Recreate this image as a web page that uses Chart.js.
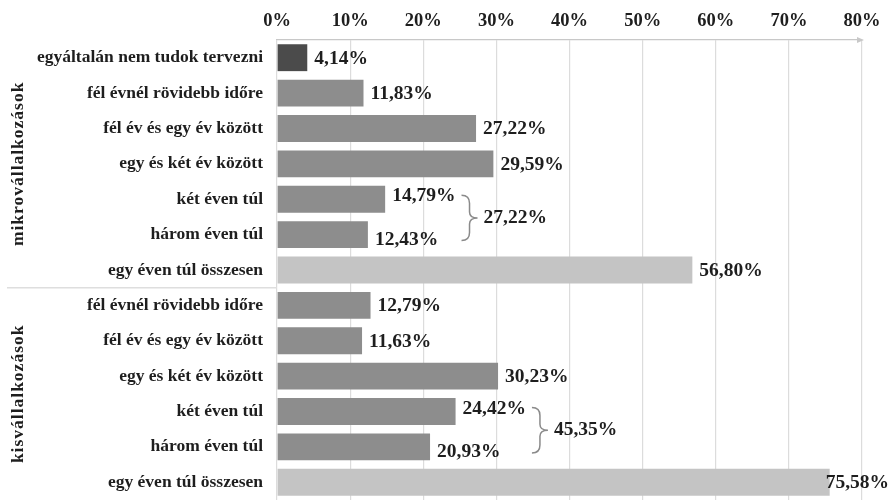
<!DOCTYPE html>
<html>
<head>
<meta charset="utf-8">
<script src="https://cdn.jsdelivr.net/npm/chart.js@4.4.0/dist/chart.umd.min.js"></script>
<style>
  html, body { margin: 0; padding: 0; background: #fff; }
  .chart-wrap { width: 892px; height: 500px; }
</style>
</head>
<body>
<div class="chart-wrap"><canvas id="myChart" width="892" height="500"></canvas></div>
<script>
const categories = [
  'egyáltalán nem tudok tervezni',
  'fél évnél rövidebb időre',
  'fél év és egy év között',
  'egy és két év között',
  'két éven túl',
  'három éven túl',
  'egy éven túl összesen',
  'fél évnél rövidebb időre',
  'fél év és egy év között',
  'egy és két év között',
  'két éven túl',
  'három éven túl',
  'egy éven túl összesen'
];
const values = [4.14, 11.83, 27.22, 29.59, 14.79, 12.43, 56.80, 12.79, 11.63, 30.23, 24.42, 20.93, 75.58];
const groupLabels = ['mikrovállalkozások', 'kisvállalkozások'];
const groupStarts = [0, 7];
const groupEnds = [6, 12];
const braceRows = [[4, 5], [10, 11]];
const braceSums = [27.22, 45.35];
const xTicks = [0, 10, 20, 30, 40, 50, 60, 70, 80];

const FONT = '"Liberation Serif", "Times New Roman", serif';
const DARK = '#4b4b4b';
const MID = '#8d8d8d';
const LIGHT = '#c4c4c4';

function pct(v){
  return v.toFixed(2).replace('.', ',') + '%';
}

const app = {
  barColors: function(){
    return categories.map(function(cat, i){
      if(i == 0) return DARK;
      if(cat == 'egy éven túl összesen') return LIGHT;
      return MID;
    });
  },

  extrasPlugin: {
    id: 'extras',
    afterDatasetsDraw: function(chart){
      const ctx = chart.ctx;
      const xs = chart.scales.x;
      const ys = chart.scales.y;
      const area = chart.chartArea;
      const labelEnds = [];

      ctx.save();
      ctx.fillStyle = '#1e1e1e';
      ctx.font = 'bold 19.5px ' + FONT;
      ctx.textBaseline = 'middle';
      ctx.textAlign = 'left';

      // value labels
      values.forEach(function(v, i){
        let dy = 0;
        braceRows.forEach(function(pair){
          if(pair[0] == i) dy = -4;
          if(pair[1] == i) dy = 4;
        });
        const txt = pct(v);
        const w = ctx.measureText(txt).width;
        let x = xs.getPixelForValue(v) + 7;
        if(x + w > chart.width - 3) x = chart.width - 3 - w;
        const y = ys.getPixelForValue(i) + dy + 1;
        ctx.fillText(txt, x, y);
        labelEnds[i] = x + w;
      });

      // braces with totals
      ctx.strokeStyle = '#8a8a8a';
      ctx.lineWidth = 1.5;
      braceRows.forEach(function(pair, k){
        const x0 = Math.max(labelEnds[pair[0]], labelEnds[pair[1]]) + 6;
        const y0 = ys.getPixelForValue(pair[0]) - 4;
        const y1 = ys.getPixelForValue(pair[1]) + 6;
        const ym = (y0 + y1) / 2;
        const w = 8;
        ctx.beginPath();
        ctx.moveTo(x0, y0);
        ctx.quadraticCurveTo(x0 + w, y0, x0 + w, y0 + 8);
        ctx.lineTo(x0 + w, ym - 6);
        ctx.quadraticCurveTo(x0 + w, ym, x0 + 2 * w, ym);
        ctx.quadraticCurveTo(x0 + w, ym, x0 + w, ym + 6);
        ctx.lineTo(x0 + w, y1 - 8);
        ctx.quadraticCurveTo(x0 + w, y1, x0, y1);
        ctx.stroke();
        ctx.fillText(pct(braceSums[k]), x0 + 2 * w + 6, ym);
      });

      // arrow at the end of the top axis
      ctx.fillStyle = '#c8c8c8';
      ctx.beginPath();
      ctx.moveTo(area.right + 2, area.top);
      ctx.lineTo(area.right - 5, area.top - 3);
      ctx.lineTo(area.right - 5, area.top + 3);
      ctx.closePath();
      ctx.fill();

      // group separator and rotated group labels
      ctx.strokeStyle = '#dedede';
      ctx.lineWidth = 1.5;
      for(let g = 1; g < groupStarts.length; g++){
        const ySep = (ys.getPixelForValue(groupStarts[g] - 1) + ys.getPixelForValue(groupStarts[g])) / 2;
        ctx.beginPath();
        ctx.moveTo(7, ySep);
        ctx.lineTo(area.left, ySep);
        ctx.stroke();
      }

      ctx.fillStyle = '#1e1e1e';
      ctx.font = 'bold 17.5px ' + FONT;
      ctx.letterSpacing = '1px';
      ctx.textAlign = 'center';
      groupLabels.forEach(function(lbl, g){
        const yc = (ys.getPixelForValue(groupStarts[g]) + ys.getPixelForValue(groupEnds[g])) / 2;
        ctx.save();
        ctx.translate(18, yc);
        ctx.rotate(-Math.PI / 2);
        ctx.fillText(lbl, 0, 0);
        ctx.restore();
      });
      ctx.restore();
    }
  },

  initChart: function(){
    const thisApp = this;
    thisApp.ctx = document.getElementById('myChart').getContext('2d');
    // eslint-disable-next-line no-undef
    thisApp.chart = new Chart(thisApp.ctx, {
      type: 'bar',
      data: {
        labels: categories,
        datasets: [{
          data: values,
          backgroundColor: thisApp.barColors(),
          borderWidth: 0,
          categoryPercentage: 1,
          barPercentage: 0.76,
        }]
      },
      options: {
        indexAxis: 'y',
        responsive: false,
        animation: false,
        layout: { padding: { left: 0, right: 30, top: 0, bottom: 0 } },
        plugins: {
          legend: { display: false },
          tooltip: { enabled: false },
        },
        scales: {
          x: {
            position: 'top',
            min: 0,
            max: 80,
            afterBuildTicks: function(scale){
              scale.ticks = xTicks.map(function(v){ return { value: v }; });
            },
            afterFit: function(scale){
              scale.height = 40;
              scale.paddingLeft = 0;
              scale.paddingRight = 0;
            },
            ticks: {
              padding: 8,
              color: '#1e1e1e',
              font: { family: FONT, size: 18.5, weight: 'bold' },
              callback: function(v){ return v + '%'; },
            },
            grid: { color: '#dcdcdc', lineWidth: 1.2, drawTicks: false },
            border: { display: true, color: '#c8c8c8', width: 1.2 },
          },
          y: {
            afterFit: function(scale){
              scale.width = 277;
              scale.paddingTop = 0;
              scale.paddingBottom = 0;
            },
            ticks: {
              padding: 14,
              autoSkip: false,
              color: '#1e1e1e',
              font: { family: FONT, size: 17.5, weight: 'bold' },
            },
            grid: { display: false, drawTicks: false },
            border: { display: false },
          }
        }
      },
      plugins: [thisApp.extrasPlugin],
    });
  },

  init: function(){
    this.initChart();
  }
};

app.init();
</script>
</body>
</html>
